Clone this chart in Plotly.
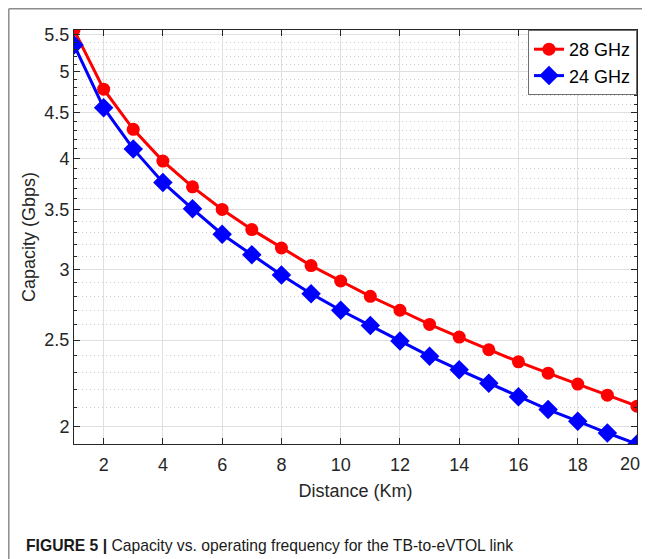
import math
import plotly.graph_objects as go

distance_km = list(range(1, 21))
cap_28ghz = [5.57, 4.78, 4.31, 3.97, 3.715, 3.504, 3.327, 3.172, 3.031, 2.913,
             2.800, 2.701, 2.604, 2.520, 2.439, 2.364, 2.296, 2.232, 2.169, 2.108]
cap_24ghz = [5.36, 4.558, 4.097, 3.757, 3.51, 3.287, 3.118, 2.958, 2.819, 2.701,
             2.596, 2.494, 2.399, 2.316, 2.237, 2.160, 2.090, 2.028, 1.967, 1.912]
x_ticks = [2, 4, 6, 8, 10, 12, 14, 16, 18, 20]
x_tick_text = ["2", "4", "6", "8", "10", "12", "14", "16", "18", "20"]
y_ticks = [2, 2.5, 3, 3.5, 4, 4.5, 5, 5.5]
y_tick_text = ["2", "2.5", "3", "3.5", "4", "4.5", "5", "5.5"]
y_minor = [round(v / 10, 1) for v in range(20, 56) if v % 5 != 0]

FONT = "Liberation Sans, Arial"
TICK_FONT = dict(family=FONT, size=18, color="#262626")
fig = go.Figure()
fig.add_trace(go.Scatter(x=distance_km, y=cap_28ghz, name="28 GHz", mode="lines+markers",
                         line=dict(color="#ff0000", width=3),
                         marker=dict(symbol="circle", size=13, color="#ff0000")))
fig.add_trace(go.Scatter(x=distance_km, y=cap_24ghz, name="24 GHz", mode="lines+markers",
                         line=dict(color="#0000ff", width=3),
                         marker=dict(symbol="diamond", size=15, color="#0000ff")))

axis_common = dict(showline=True, linecolor="#262626", linewidth=1, mirror="ticks",
                   ticks="inside", ticklen=6, tickcolor="#262626", zeroline=False,
                   automargin=False, tickfont=TICK_FONT,
                   gridcolor="#dfdfdf", gridwidth=1)

# the last x label is drawn right-aligned (below) so it stays inside the visible page
fig.update_xaxes(range=[1, 20], tickvals=x_ticks, ticktext=x_tick_text[:-1] + [""],
                 ticklabelstandoff=4,
                 title=dict(text="Distance (Km)", font=dict(family=FONT, size=18, color="#262626"), standoff=10),
                 **axis_common)
fig.update_yaxes(type="log", range=[math.log10(min(cap_24ghz)), math.log10(max(cap_28ghz))],
                 tickvals=y_ticks, ticktext=y_tick_text,
                 title=dict(text="Capacity (Gbps)", font=dict(family=FONT, size=18, color="#262626"), standoff=4),
                 minor=dict(tickvals=y_minor, ticks="inside", ticklen=3, tickcolor="#262626",
                            showgrid=True, gridcolor="#cfcfcf", griddash="1px,3px", gridwidth=1),
                 **axis_common)

# figure is placed at (8, 8) in the page (default body margin)
W, H = 642, 551
L, R, T, B = 66, 13, 22, 115
PW, PH = W - L - R, H - T - B

fig.update_layout(
    width=W, height=H,
    margin=dict(l=L, r=R, t=T, b=B, autoexpand=False),
    paper_bgcolor="white", plot_bgcolor="white",
    font=dict(family=FONT, color="#262626"),
    legend=dict(x=1, y=1, xanchor="right", yanchor="top",
                bgcolor="white", bordercolor="#6e6e6e", borderwidth=1,
                font=dict(family=FONT, size=18, color="#000000"),
                itemwidth=30, tracegroupgap=0),
    showlegend=True,
)

fig.add_annotation(x=x_ticks[-1], xref="x", y=0, yref="paper",
                   xanchor="right", yanchor="middle", xshift=4, yshift=-20,
                   showarrow=False, text=x_tick_text[-1], font=TICK_FONT, borderpad=0)

# page border lines (left and top)
fig.add_shape(type="line", xref="paper", yref="paper",
              x0=(-L + 0.8) / PW, x1=(-L + 0.8) / PW, y0=-B / PH, y1=1 + (T - 0.8) / PH,
              line=dict(color="#8c8c8c", width=1.5))
fig.add_shape(type="line", xref="paper", yref="paper",
              x0=(-L + 0.8) / PW, x1=(W - L) / PW, y0=1 + (T - 0.8) / PH, y1=1 + (T - 0.8) / PH,
              line=dict(color="#8c8c8c", width=1.5))

fig.add_annotation(xref="paper", yref="paper", x=(16 - L) / PW, y=-(537 - T - PH) / PH,
                   xanchor="left", yanchor="middle", showarrow=False,
                   text="<b>FIGURE 5 |</b> Capacity vs. operating frequency for the TB-to-eVTOL link",
                   font=dict(family=FONT, size=15.7, color="#1a1a1a"))

fig.write_html("out.html")
